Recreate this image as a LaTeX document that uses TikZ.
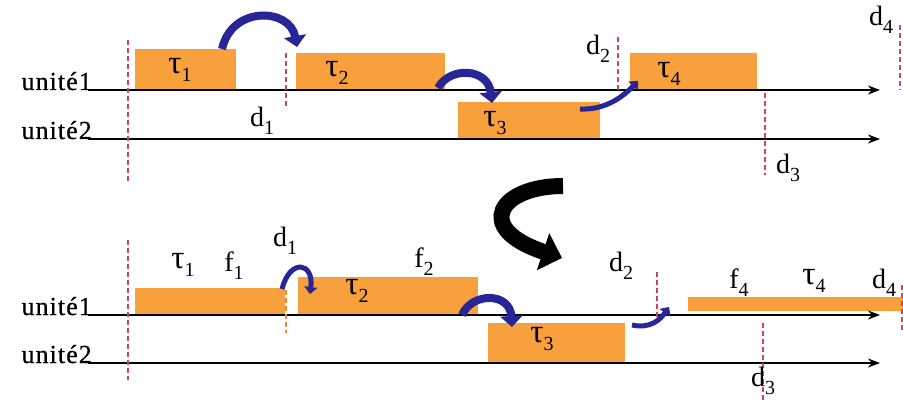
\documentclass[tikz,border=0pt]{standalone}
\usepackage{fontspec}
\setmainfont{Liberation Serif}
\usepackage{tikz}
\usetikzlibrary{arrows.meta}
\definecolor{orangetache}{RGB}{247,160,60}
\definecolor{bleusaut}{RGB}{38,38,150}
\definecolor{rougelim}{RGB}{200,70,100}
\newcommand\ind[1]{\raisebox{-0.28em}{\fontsize{20}{20}\selectfont #1}}
\newcommand\tache[1]{{\fontsize{33}{33}\selectfont τ}\ind{#1}}
\tikzset{>=stealth}
\tikzset{
  tache/.style={fill=orangetache},
  axe/.style={line width=2.6pt,-{Stealth[length=12pt,width=9pt]}},
  limite/.style={rougelim, dash pattern=on 5pt off 3pt, line width=1.4pt},
  saut/.style={bleusaut, line width=8pt, -{Triangle[length=11pt,width=22pt]}},
  petitsaut/.style={bleusaut, line width=5pt, -{Triangle[length=7pt,width=13pt]}},
  lbl/.style={font=\fontsize{28}{30}\selectfont, inner sep=0pt},
  unite/.style={font=\fontsize{26}{28}\selectfont\addfontfeature{LetterSpace=4,FakeBold=0.6},
    inner sep=0pt, anchor=base east},
}

\begin{document}
\begin{tikzpicture}[x=1pt,y=-1pt]
\useasboundingbox (0,0) rectangle (903,401);

% ---- avant : ordonnancement initial
\fill [tache] (135,49) rectangle (236,89);
\fill [tache] (296,53) rectangle (445,89);
\fill [tache] (458,102) rectangle (600,139);
\fill [tache] (630,53) rectangle (757,89);

\node [unite] (u1a) at (92,90) {unité1};
\node [unite] (u2a) at (92,139) {unité2};
\coordinate (a1s) at (88,90);  \coordinate (a1e) at (880,90);
\coordinate (a2s) at (88,139); \coordinate (a2e) at (880,139);
\draw [axe] (a1s) -- (a1e);
\draw [axe] (a2s) -- (a2e);

\draw [limite] (128,40) -- (128,183);
\draw [limite] (286,53) -- (286,107);
\draw [limite] (618,37) -- (618,90);
\draw [limite] (765,93) -- (765,175);
\draw [limite] (900,25) -- (900,90);

\node [lbl] (ta1) at (180,70) {\tache{1}};
\node [lbl] (ta2) at (337,73) {\tache{2}};
\node [lbl] (ta3) at (495,123) {\tache{3}};
\node [lbl] (ta4) at (669,74) {\tache{4}};
\node [lbl] (da1) at (262,121) {d\ind{1}};
\node [lbl] (da2) at (598,49) {d\ind{2}};
\node [lbl] (da3) at (788,168) {d\ind{3}};
\node [lbl] (da4) at (881,20) {d\ind{4}};

\coordinate (sa1) at (222,49);  \coordinate (ea1) at (297,47);
\coordinate (sa2) at (438,88);  \coordinate (ea2) at (492,103);
\coordinate (sa3) at (580,109); \coordinate (ea3) at (638,81);
\draw [saut] (sa1) .. controls (232,5) and (290,8) .. (ea1);
\draw [saut] (sa2) .. controls (450,66) and (488,68) .. (ea2);
\draw [petitsaut] (sa3) .. controls (602,110) and (620,100) .. (ea3);

% ---- passage
\coordinate (ps) at (563,186); \coordinate (pe) at (562,258);
\draw [line width=16pt, -{Triangle[length=20pt,width=38pt]}]
  (ps) .. controls (500,186) and (472,228) .. (pe);

% ---- apres : ordonnancement modifie
\fill [tache] (135,288) rectangle (285,314);
\fill [tache] (298,277) rectangle (478,314);
\fill [tache] (488,323) rectangle (625,362);
\fill [tache] (688,297) rectangle (903,311);

\node [unite] (u1b) at (92,315) {unité1};
\node [unite] (u2b) at (92,363) {unité2};
\coordinate (b1s) at (88,315);  \coordinate (b1e) at (880,315);
\coordinate (b2s) at (88,363);  \coordinate (b2e) at (880,363);
\draw [axe] (b1s) -- (b1e);
\draw [axe] (b2s) -- (b2e);

\draw [limite] (128,240) -- (128,380);
\draw [limite, orangetache!70!rougelim] (286,290) -- (286,333);
\draw [limite] (657,272) -- (657,318);
\draw [limite] (763,323) -- (763,401);
\draw [limite] (902,285) -- (902,330);

\node [lbl] (tb1) at (183,265) {\tache{1}};
\node [lbl] (fb1) at (234,266) {f\ind{1}};
\node [lbl] (tb2) at (357,291) {\tache{2}};
\node [lbl] (fb2) at (424,262) {f\ind{2}};
\node [lbl] (tb3) at (542,339) {\tache{3}};
\node [lbl] (fb4) at (739,283) {f\ind{4}};
\node [lbl] (tb4) at (814,281) {\tache{4}};
\node [lbl] (db1) at (285,241) {d\ind{1}};
\node [lbl] (db2) at (621,266) {d\ind{2}};
\node [lbl] (db3) at (763,381) {d\ind{3}};
\node [lbl] (db4) at (884,283) {d\ind{4}};

\coordinate (sb1) at (282,289); \coordinate (eb1) at (310,294);
\coordinate (sb2) at (462,315); \coordinate (eb2) at (512,327);
\coordinate (sb3) at (632,325); \coordinate (eb3) at (669,307);
\draw [petitsaut] (sb1) .. controls (290,258) and (314,262) .. (eb1);
\draw [saut] (sb2) .. controls (472,292) and (510,292) .. (eb2);
\draw [petitsaut] (sb3) .. controls (650,329) and (660,320) .. (eb3);
\end{tikzpicture}
\end{document}
